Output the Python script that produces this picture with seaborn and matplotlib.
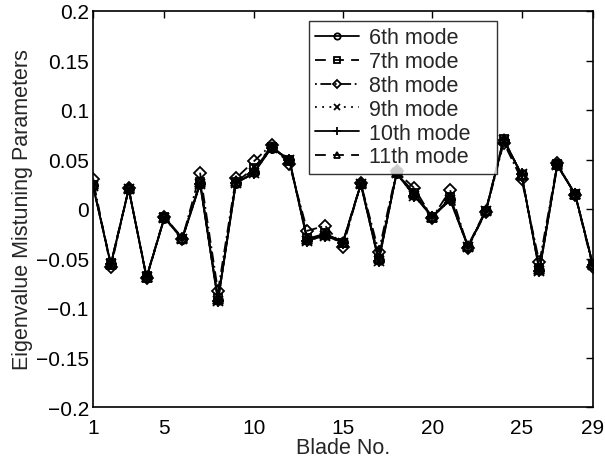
import matplotlib
matplotlib.use("Agg")
import matplotlib.pyplot as plt
import seaborn as sns
import pandas as pd

blades = list(range(1, 30))
mode6 = [0.024, -0.056, 0.020, -0.069, -0.009, -0.030, 0.026, -0.092, 0.026, 0.037, 0.062, 0.050, -0.031, -0.026, -0.033, 0.025, -0.052, 0.036, 0.014, -0.008, 0.010, -0.038, -0.002, 0.069, 0.035, -0.062, 0.044, 0.015, -0.057]
mode7 = [0.024, -0.055, 0.020, -0.068, -0.008, -0.030, 0.027, -0.090, 0.027, 0.041, 0.063, 0.049, -0.029, -0.024, -0.034, 0.025, -0.050, 0.036, 0.016, -0.008, 0.012, -0.038, -0.002, 0.071, 0.034, -0.060, 0.045, 0.015, -0.057]
mode8 = [0.030, -0.059, 0.021, -0.070, -0.008, -0.030, 0.036, -0.083, 0.031, 0.048, 0.065, 0.045, -0.022, -0.017, -0.038, 0.026, -0.043, 0.038, 0.021, -0.009, 0.019, -0.039, -0.003, 0.067, 0.030, -0.054, 0.046, 0.014, -0.059]
mode9 = [0.023, -0.056, 0.020, -0.069, -0.009, -0.030, 0.025, -0.093, 0.026, 0.036, 0.062, 0.049, -0.032, -0.027, -0.034, 0.025, -0.053, 0.036, 0.013, -0.008, 0.009, -0.038, -0.002, 0.070, 0.035, -0.063, 0.044, 0.015, -0.057]
mode10 = [0.023, -0.056, 0.020, -0.069, -0.009, -0.030, 0.025, -0.093, 0.026, 0.036, 0.062, 0.049, -0.032, -0.027, -0.034, 0.025, -0.053, 0.036, 0.013, -0.008, 0.009, -0.038, -0.002, 0.070, 0.035, -0.063, 0.044, 0.015, -0.057]
mode11 = [0.025, -0.056, 0.021, -0.069, -0.008, -0.029, 0.027, -0.091, 0.028, 0.039, 0.063, 0.049, -0.030, -0.025, -0.033, 0.026, -0.049, 0.037, 0.016, -0.008, 0.011, -0.037, -0.001, 0.071, 0.034, -0.061, 0.045, 0.015, -0.056]

labels = ["6th mode", "7th mode", "8th mode", "9th mode", "10th mode", "11th mode"]
series = [mode6, mode7, mode8, mode9, mode10, mode11]
markers = ["o", "s", "D", "x", "+", "^"]
linestyles = ["-", (0, (6, 4)), (0, (1, 2, 6, 2)), (0, (1, 3)), "-", (0, (6, 4))]
msizes = [6.5, 6, 6, 6.5, 9, 6.5]

sns.set_style("white")
plt.rcParams['font.family'] = ['Liberation Sans', 'DejaVu Sans']
plt.rcParams['axes.unicode_minus'] = True

fig = plt.figure(figsize=(6.05, 4.6), dpi=100)
ax = fig.add_axes([93/605, 1-408/460, 500/605, 396/460])

for lab, vals, m, ls, ms in zip(labels, series, markers, linestyles, msizes):
    df = pd.DataFrame({"Blade": blades, "Value": vals})
    sns.lineplot(data=df, x="Blade", y="Value", ax=ax, color="black",
                 marker=m, linestyle=ls, linewidth=1.3, markersize=ms,
                 markerfacecolor="none", markeredgecolor="black",
                 markeredgewidth=1.3, label=lab)

ax.set_xlim(1, 29)
ax.set_ylim(-0.2, 0.2)
ax.set_xticks([1, 5, 10, 15, 20, 25, 29])
yt = [-0.2, -0.15, -0.1, -0.05, 0, 0.05, 0.1, 0.15, 0.2]
ax.set_yticks(yt)
ax.set_yticklabels(["\u22120.2", "\u22120.15", "\u22120.1", "\u22120.05", "0", "0.05", "0.1", "0.15", "0.2"])
ax.tick_params(direction="in", top=True, right=True, length=5, width=1, labelsize=15, colors="black")
ax.tick_params(axis="x", pad=8)
ax.tick_params(axis="y", pad=3)
for s in ax.spines.values():
    s.set_visible(True)
    s.set_color("black")
    s.set_linewidth(1.2)
ax.set_xlabel("Blade No.", fontsize=15.5, labelpad=0)
ax.set_ylabel("Eigenvalue Mistuning Parameters", fontsize=15.5, labelpad=2)

leg = ax.legend(loc="upper left",
                bbox_to_anchor=((309-93)/500, (408-178)/396, (497-309)/500, 156/396),
                mode="expand", frameon=True, fancybox=False, edgecolor="black", fontsize=15.5,
                handlelength=2.0, borderpad=0.3, labelspacing=0.13, handletextpad=0.5,
                borderaxespad=0, markerscale=0.7)
leg.get_frame().set_linewidth(1.0)

fig.savefig("out.png", dpi=100)
